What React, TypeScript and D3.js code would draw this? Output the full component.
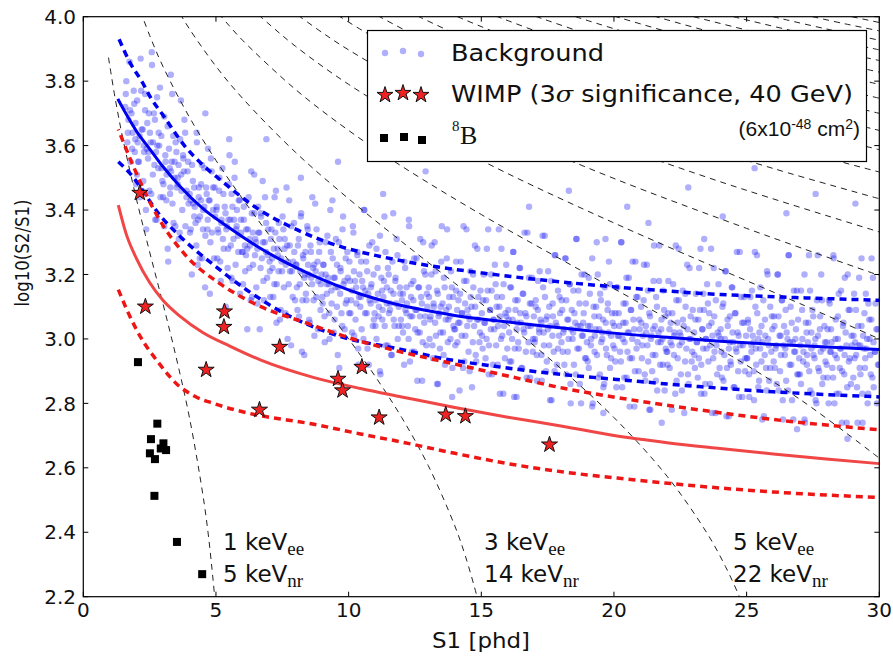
import React from "react";
import * as d3 from "d3";

type P = [number, number];

const xTickValues = [0, 5, 10, 15, 20, 25, 30];
const yTickValues = [2.2, 2.4, 2.6, 2.8, 3.0, 3.2, 3.4, 3.6, 3.8, 4.0];

const backgroundPoints: P[] = [
[1.58,3.72],[1.62,3.80],[1.66,3.61],[1.70,3.68],[1.74,3.86],[1.78,3.55],[1.82,3.70],[1.86,3.64],[1.90,3.77],[1.94,3.58],[1.97,3.67],[1.99,3.48],
[1.60,3.76],[1.68,3.64],[1.76,3.71],[1.84,3.59],[1.92,3.73],[1.96,3.62],
[2.03,3.74],[2.07,3.55],[2.12,3.63],[2.16,3.87],[2.21,3.46],[2.24,3.65],[2.29,3.58],[2.33,3.76],[2.37,3.34],[2.41,3.67],[2.46,3.58],[2.49,3.46],[2.54,3.61],[2.58,3.89],[2.62,3.51],[2.66,3.70],[2.71,3.37],[2.74,3.58],[2.78,3.75],[2.83,3.53],[2.86,3.60],[2.91,3.44],[2.94,3.63],[2.98,3.49],
[3.01,3.44],[3.05,3.69],[3.10,3.55],[3.14,3.51],[3.18,3.28],[3.23,3.59],[3.27,3.45],[3.31,3.52],[3.35,3.76],[3.40,3.36],[3.44,3.55],[3.48,3.61],[3.52,3.47],[3.56,3.50],[3.60,3.31],[3.65,3.62],[3.69,3.51],[3.73,3.40],[3.77,3.56],[3.81,3.68],[3.85,3.35],[3.89,3.46],[3.93,3.52],[3.97,3.42],
[4.01,3.45],[4.05,3.34],[4.10,3.54],[4.14,3.42],[4.18,3.47],[4.23,3.36],[4.27,3.64],[4.31,3.23],[4.35,3.44],[4.40,3.38],[4.44,3.48],[4.48,3.25],[4.52,3.40],[4.56,3.53],[4.60,3.32],[4.65,3.45],[4.69,3.37],[4.73,3.43],[4.77,3.14],[4.81,3.56],[4.85,3.33],[4.89,3.47],[4.93,3.25],[4.97,3.38],
[5.03,3.41],[5.07,3.34],[5.12,3.46],[5.16,3.24],[5.21,3.37],[5.24,3.53],[5.29,3.28],[5.33,3.41],[5.37,3.10],[5.41,3.35],[5.46,3.28],[5.49,3.48],[5.54,3.37],[5.58,3.19],[5.62,3.41],[5.66,3.31],[5.71,3.55],[5.74,3.23],[5.78,3.35],[5.83,3.32],[5.86,3.43],[5.91,3.14],[5.94,3.37],[5.98,3.27],
[6.01,3.27],[6.05,3.37],[6.10,3.21],[6.14,3.34],[6.18,3.28],[6.23,3.44],[6.27,3.31],[6.31,3.12],[6.35,3.39],[6.40,3.23],[6.44,3.51],[6.48,3.31],[6.52,3.16],[6.56,3.28],[6.60,3.33],[6.65,3.03],[6.69,3.39],[6.73,3.25],[6.77,3.30],[6.81,3.12],[6.85,3.44],[6.89,3.27],[6.93,3.19],[6.97,3.34],
[7.03,3.21],[7.07,3.31],[7.12,3.25],[7.16,3.13],[7.21,3.44],[7.24,3.33],[7.29,3.17],[7.33,3.28],[7.37,3.36],[7.41,3.06],[7.46,3.25],[7.49,3.21],[7.54,3.34],[7.58,3.28],[7.62,3.08],[7.66,3.47],[7.71,3.24],[7.74,3.17],[7.78,3.29],[7.83,2.98],[7.86,3.21],[7.91,3.24],[7.94,3.36],[7.98,3.12],
[8.03,3.23],[8.07,3.09],[8.12,3.31],[8.16,3.17],[8.21,3.39],[8.24,2.96],[8.29,3.25],[8.33,3.19],[8.37,3.27],[8.41,3.12],[8.46,3.34],[8.49,3.20],[8.54,3.05],[8.58,3.27],[8.62,3.17],[8.66,3.22],[8.71,3.01],[8.74,3.42],[8.78,3.13],[8.83,3.24],[8.86,3.18],[8.91,3.30],[8.94,3.09],[8.98,3.20],
[9.01,3.13],[9.05,3.23],[9.10,2.99],[9.14,3.30],[9.18,3.17],[9.23,3.19],[9.27,3.08],[9.31,3.40],[9.35,3.15],[9.40,3.25],[9.44,3.02],[9.48,3.19],[9.52,3.31],[9.56,3.10],[9.60,3.16],[9.65,2.91],[9.69,3.22],[9.73,3.08],[9.77,3.34],[9.81,3.17],[9.85,3.03],[9.89,3.25],[9.93,3.12],[9.97,3.19],
[10.03,3.24],[10.07,3.08],[10.12,3.15],[10.16,3.35],[10.21,3.01],[10.24,3.18],[10.29,3.11],[10.33,3.27],[10.37,2.92],[10.41,3.20],[10.46,3.13],[10.49,3.03],[10.54,3.16],[10.58,3.40],[10.62,3.08],[10.66,3.24],[10.71,2.97],[10.74,3.14],[10.78,3.29],[10.83,3.11],[10.86,3.17],[10.91,3.04],[10.94,3.20],[10.98,3.08],
[11.01,3.04],[11.05,3.28],[11.10,3.14],[11.14,3.10],[11.18,2.90],[11.23,3.19],[11.27,3.06],[11.31,3.13],[11.35,3.38],[11.40,2.98],[11.44,3.16],[11.48,3.22],[11.52,3.08],[11.56,3.11],[11.60,2.95],[11.65,3.24],[11.69,3.14],[11.73,3.04],[11.77,3.19],[11.81,3.31],[11.85,3.00],[11.89,3.10],[11.93,3.16],[11.97,3.06],
[12.01,3.12],[12.05,3.02],[12.10,3.24],[12.14,3.09],[12.18,3.16],[12.23,3.04],[12.27,3.37],[12.31,2.93],[12.35,3.13],[12.40,3.07],[12.44,3.18],[12.48,2.96],[12.52,3.09],[12.56,3.25],[12.60,3.02],[12.65,3.16],[12.69,3.07],[12.73,3.13],[12.77,2.87],[12.81,3.30],[12.85,3.05],[12.89,3.20],[12.93,2.98],[12.97,3.10],
[13.03,3.13],[13.07,3.06],[13.12,3.20],[13.16,2.98],[13.21,3.10],[13.24,3.30],[13.29,3.01],[13.33,3.15],[13.37,2.86],[13.41,3.08],[13.46,3.02],[13.49,3.24],[13.54,3.11],[13.58,2.95],[13.62,3.16],[13.66,3.06],[13.71,3.34],[13.74,2.99],[13.78,3.10],[13.83,3.07],[13.86,3.21],[13.91,2.91],[13.94,3.13],[13.98,3.03],
[14.01,3.03],[14.05,3.15],[14.10,2.99],[14.14,3.12],[14.18,3.05],[14.23,3.24],[14.27,3.08],[14.31,2.91],[14.35,3.18],[14.40,3.01],[14.44,3.34],[14.48,3.09],[14.52,2.96],[14.56,3.06],[14.60,3.13],[14.65,2.85],[14.69,3.20],[14.73,3.04],[14.77,3.10],[14.81,2.93],[14.85,3.28],[14.89,3.06],[14.93,2.99],[14.97,3.15],
[15.03,3.01],[15.07,3.12],[15.12,3.05],[15.16,2.94],[15.21,3.28],[15.24,3.15],[15.29,2.98],[15.33,3.09],[15.37,3.20],[15.41,2.89],[15.46,3.06],[15.49,3.03],[15.54,3.17],[15.58,3.10],[15.62,2.92],[15.66,3.34],[15.71,3.07],[15.74,3.00],[15.78,3.13],[15.83,2.83],[15.86,3.04],[15.91,3.08],[15.94,3.23],[15.98,2.97],
[16.03,3.06],[16.07,2.93],[16.12,3.16],[16.16,3.00],[16.21,3.27],[16.24,2.82],[16.29,3.09],[16.33,3.03],[16.37,3.12],[16.41,2.97],[16.46,3.22],[16.49,3.05],[16.54,2.91],[16.58,3.14],[16.62,3.02],[16.66,3.08],[16.71,2.88],[16.74,3.33],[16.78,2.99],[16.83,3.11],[16.86,3.04],[16.91,3.19],[16.94,2.96],[16.98,3.07],
[17.01,2.99],[17.05,3.10],[17.10,2.87],[17.14,3.18],[17.18,3.03],[17.23,3.06],[17.27,2.95],[17.31,3.32],[17.35,3.02],[17.40,3.13],[17.44,2.90],[17.48,3.07],[17.52,3.21],[17.56,2.98],[17.60,3.04],[17.65,2.81],[17.69,3.11],[17.73,2.96],[17.77,3.26],[17.81,3.05],[17.85,2.92],[17.89,3.15],[17.93,3.01],[17.97,3.08],
[18.03,3.12],[18.07,2.96],[18.12,3.03],[18.16,3.25],[18.21,2.89],[18.24,3.06],[18.29,3.00],[18.33,3.17],[18.37,2.80],[18.41,3.09],[18.46,3.02],[18.49,2.92],[18.54,3.05],[18.58,3.31],[18.62,2.97],[18.66,3.15],[18.71,2.86],[18.74,3.04],[18.78,3.20],[18.83,3.01],[18.86,3.08],[18.91,2.94],[18.94,3.11],[18.98,2.99],
[19.01,2.93],[19.05,3.19],[19.10,3.04],[19.14,3.00],[19.18,2.79],[19.23,3.10],[19.27,2.96],[19.31,3.03],[19.35,3.30],[19.40,2.88],[19.44,3.07],[19.48,3.14],[19.52,2.99],[19.56,3.02],[19.60,2.85],[19.65,3.16],[19.69,3.05],[19.73,2.95],[19.77,3.11],[19.81,3.24],[19.85,2.91],[19.89,3.01],[19.93,3.08],[19.97,2.98],
[20.01,3.04],[20.05,2.93],[20.10,3.16],[20.14,3.01],[20.18,3.08],[20.23,2.96],[20.27,3.30],[20.31,2.85],[20.35,3.05],[20.40,2.99],[20.44,3.11],[20.48,2.88],[20.52,3.02],[20.56,3.19],[20.60,2.94],[20.65,3.09],[20.69,3.00],[20.73,3.06],[20.77,2.79],[20.81,3.24],[20.85,2.97],[20.89,3.13],[20.93,2.90],[20.97,3.03],
[21.03,3.05],[21.07,2.98],[21.12,3.12],[21.16,2.89],[21.21,3.02],[21.24,3.23],[21.29,2.93],[21.33,3.08],[21.37,2.78],[21.41,3.01],[21.46,2.95],[21.49,3.18],[21.54,3.04],[21.58,2.87],[21.62,3.10],[21.66,2.99],[21.71,3.29],[21.74,2.92],[21.78,3.03],[21.83,3.00],[21.86,3.15],[21.91,2.84],[21.94,3.07],[21.98,2.96],
[22.01,2.96],[22.05,3.08],[22.10,2.91],[22.14,3.05],[22.18,2.98],[22.23,3.17],[22.27,3.01],[22.31,2.83],[22.35,3.12],[22.40,2.94],[22.44,3.28],[22.48,3.02],[22.52,2.89],[22.56,2.99],[22.60,3.06],[22.65,2.77],[22.69,3.14],[22.73,2.97],[22.77,3.03],[22.81,2.86],[22.85,3.22],[22.89,3.00],[22.93,2.93],[22.97,3.09],
[23.03,2.95],[23.07,3.06],[23.12,2.99],[23.16,2.88],[23.21,3.22],[23.24,3.09],[23.29,2.92],[23.33,3.03],[23.37,3.14],[23.41,2.83],[23.46,3.00],[23.49,2.97],[23.54,3.11],[23.58,3.04],[23.62,2.86],[23.66,3.28],[23.71,3.01],[23.74,2.94],[23.78,3.07],[23.83,2.77],[23.86,2.98],[23.91,3.02],[23.94,3.17],[23.98,2.91],
[24.03,3.00],[24.07,2.88],[24.12,3.11],[24.16,2.95],[24.21,3.21],[24.24,2.76],[24.29,3.04],[24.33,2.97],[24.37,3.07],[24.41,2.92],[24.46,3.16],[24.49,2.99],[24.54,2.85],[24.58,3.08],[24.62,2.96],[24.66,3.02],[24.71,2.82],[24.74,3.27],[24.78,2.93],[24.83,3.05],[24.86,2.98],[24.91,3.13],[24.94,2.90],[24.98,3.01],
[25.01,2.94],[25.05,3.05],[25.10,2.82],[25.14,3.13],[25.18,2.98],[25.23,3.01],[25.27,2.90],[25.31,3.27],[25.35,2.97],[25.40,3.08],[25.44,2.85],[25.48,3.02],[25.52,3.16],[25.56,2.93],[25.60,2.99],[25.65,2.76],[25.69,3.06],[25.73,2.91],[25.77,3.21],[25.81,3.00],[25.85,2.87],[25.89,3.10],[25.93,2.96],[25.97,3.03],
[26.03,3.07],[26.07,2.91],[26.12,2.98],[26.16,3.20],[26.21,2.84],[26.24,3.01],[26.29,2.95],[26.33,3.12],[26.37,2.75],[26.41,3.04],[26.46,2.97],[26.49,2.87],[26.54,3.00],[26.58,3.26],[26.62,2.92],[26.66,3.10],[26.71,2.81],[26.74,2.99],[26.78,3.15],[26.83,2.96],[26.86,3.03],[26.91,2.89],[26.94,3.06],[26.98,2.94],
[27.01,2.89],[27.05,3.15],[27.10,3.00],[27.14,2.96],[27.18,2.75],[27.23,3.05],[27.27,2.92],[27.31,2.99],[27.35,3.26],[27.40,2.84],[27.44,3.02],[27.48,3.09],[27.52,2.95],[27.56,2.98],[27.60,2.81],[27.65,3.12],[27.69,3.01],[27.73,2.90],[27.77,3.07],[27.81,3.20],[27.85,2.86],[27.89,2.97],[27.93,3.04],[27.97,2.93],
[28.01,2.99],[28.05,2.88],[28.10,3.12],[28.14,2.96],[28.18,3.03],[28.23,2.91],[28.27,3.26],[28.31,2.80],[28.35,3.00],[28.40,2.94],[28.44,3.07],[28.48,2.83],[28.52,2.97],[28.56,3.15],[28.60,2.90],[28.65,3.05],[28.69,2.95],[28.73,3.02],[28.77,2.74],[28.81,3.20],[28.85,2.93],[28.89,3.09],[28.93,2.86],[28.97,2.98],
[29.03,3.01],[29.07,2.94],[29.12,3.09],[29.16,2.85],[29.21,2.98],[29.24,3.19],[29.29,2.89],[29.33,3.04],[29.37,2.74],[29.41,2.97],[29.46,2.91],[29.49,3.14],[29.54,3.00],[29.58,2.83],[29.62,3.06],[29.66,2.95],[29.71,3.25],[29.74,2.88],[29.78,2.99],[29.83,2.96],[29.86,3.11],[29.91,2.80],[29.94,3.03],[29.98,2.92],
[6.9,3.62],[9.6,3.55],[12.9,3.52],[16.8,3.41],[18.3,3.46],[20.5,3.41],[21.3,3.36],[22.8,3.47],[24.1,3.38],[25.3,3.53],[26.5,3.39],[27.6,3.45],[29.1,3.42],[23.4,3.31],[13.9,2.82],[19.6,2.77],[21.8,2.74],[26.9,2.72],[28.8,2.69],[11.3,3.45],[8.2,3.5],[5.5,3.62],[3.3,3.82],[4.6,3.70]
];

const backgroundPointsB: P[] = [
[2.02,3.51],[2.05,3.61],[2.09,3.55],[2.13,3.44],[2.18,3.77],[2.20,3.65],[2.26,3.49],[2.28,3.60],[2.33,3.71],[2.36,3.40],[2.39,3.59],[2.44,3.56],[2.47,3.70],[2.51,3.64],[2.56,3.45],[2.59,3.85],[2.63,3.61],[2.68,3.54],[2.70,3.68],[2.76,3.37],[2.79,3.60],[2.84,3.64],[2.89,3.78],[2.95,3.53],
[3.02,3.48],[3.05,3.35],[3.09,3.57],[3.13,3.43],[3.18,3.66],[3.20,3.24],[3.26,3.53],[3.28,3.47],[3.33,3.55],[3.36,3.42],[3.39,3.63],[3.44,3.50],[3.47,3.35],[3.51,3.58],[3.56,3.48],[3.59,3.54],[3.63,3.33],[3.68,3.74],[3.70,3.46],[3.76,3.57],[3.79,3.52],[3.84,3.64],[3.89,3.44],[3.95,3.55],
[4.02,3.33],[4.05,3.43],[4.09,3.20],[4.13,3.49],[4.18,3.38],[4.20,3.41],[4.26,3.29],[4.28,3.61],[4.33,3.37],[4.36,3.47],[4.39,3.25],[4.44,3.43],[4.47,3.54],[4.51,3.34],[4.56,3.41],[4.59,3.16],[4.63,3.47],[4.68,3.34],[4.70,3.59],[4.76,3.43],[4.79,3.30],[4.84,3.52],[4.89,3.40],[4.95,3.47],
[5.02,3.40],[5.05,3.25],[5.09,3.33],[5.13,3.50],[5.18,3.18],[5.20,3.36],[5.26,3.31],[5.28,3.45],[5.33,3.09],[5.36,3.39],[5.39,3.34],[5.44,3.22],[5.47,3.37],[5.51,3.57],[5.56,3.29],[5.59,3.45],[5.63,3.18],[5.68,3.37],[5.70,3.50],[5.76,3.34],[5.79,3.40],[5.84,3.27],[5.89,3.43],[5.95,3.33],
[6.02,3.17],[6.05,3.41],[6.09,3.29],[6.13,3.26],[6.18,3.03],[6.20,3.34],[6.26,3.22],[6.28,3.29],[6.33,3.52],[6.36,3.13],[6.39,3.33],[6.44,3.39],[6.47,3.26],[6.51,3.30],[6.56,3.11],[6.59,3.41],[6.63,3.33],[6.68,3.22],[6.70,3.38],[6.76,3.49],[6.79,3.18],[6.84,3.30],[6.89,3.36],[6.95,3.26],
[7.02,3.24],[7.05,3.13],[7.09,3.34],[7.13,3.22],[7.18,3.28],[7.20,3.17],[7.26,3.46],[7.28,3.05],[7.33,3.26],[7.36,3.21],[7.39,3.31],[7.44,3.09],[7.47,3.24],[7.51,3.38],[7.56,3.16],[7.59,3.31],[7.63,3.23],[7.68,3.29],[7.70,3.00],[7.76,3.43],[7.79,3.21],[7.84,3.35],[7.89,3.13],[7.95,3.27],
[8.02,3.23],[8.05,3.16],[8.09,3.29],[8.13,3.07],[8.18,3.21],[8.20,3.38],[8.26,3.12],[8.28,3.26],[8.33,2.95],[8.36,3.20],[8.39,3.14],[8.44,3.35],[8.47,3.23],[8.51,3.06],[8.56,3.29],[8.59,3.19],[8.63,3.44],[8.68,3.12],[8.70,3.23],[8.76,3.21],[8.79,3.34],[8.84,3.03],[8.89,3.27],[8.95,3.17],
[9.02,3.11],[9.05,3.23],[9.09,3.07],[9.13,3.20],[9.18,3.14],[9.20,3.32],[9.26,3.17],[9.28,3.00],[9.33,3.27],[9.36,3.11],[9.39,3.43],[9.44,3.19],[9.47,3.06],[9.51,3.16],[9.56,3.23],[9.59,2.95],[9.63,3.30],[9.68,3.14],[9.70,3.21],[9.76,3.04],[9.79,3.38],[9.84,3.18],[9.89,3.11],[9.95,3.27],
[10.02,3.08],[10.05,3.18],[10.09,3.12],[10.13,3.02],[10.18,3.33],[10.20,3.21],[10.26,3.06],[10.28,3.16],[10.33,3.26],[10.36,2.97],[10.39,3.13],[10.44,3.10],[10.47,3.24],[10.51,3.18],[10.56,3.00],[10.59,3.40],[10.63,3.15],[10.68,3.08],[10.70,3.21],[10.76,2.92],[10.79,3.12],[10.84,3.16],[10.89,3.30],[10.95,3.06],
[11.02,3.12],[11.05,3.00],[11.09,3.22],[11.13,3.07],[11.18,3.32],[11.20,2.89],[11.26,3.15],[11.28,3.09],[11.33,3.18],[11.36,3.04],[11.39,3.27],[11.44,3.11],[11.47,2.98],[11.51,3.20],[11.56,3.09],[11.59,3.15],[11.63,2.95],[11.68,3.39],[11.70,3.06],[11.76,3.18],[11.79,3.11],[11.84,3.26],[11.89,3.04],[11.95,3.14],
[12.02,3.04],[12.05,3.14],[12.09,2.92],[12.13,3.22],[12.18,3.08],[12.20,3.11],[12.26,3.00],[12.28,3.35],[12.33,3.07],[12.36,3.17],[12.39,2.96],[12.44,3.12],[12.47,3.25],[12.51,3.03],[12.56,3.09],[12.59,2.87],[12.63,3.16],[12.68,3.02],[12.70,3.31],[12.76,3.11],[12.79,2.99],[12.84,3.21],[12.89,3.07],[12.95,3.14],
[13.02,3.16],[13.05,3.00],[13.09,3.07],[13.13,3.29],[13.18,2.94],[13.20,3.11],[13.26,3.05],[13.28,3.21],[13.33,2.86],[13.36,3.14],[13.39,3.07],[13.44,2.97],[13.47,3.10],[13.51,3.35],[13.56,3.02],[13.59,3.19],[13.63,2.92],[13.68,3.09],[13.70,3.25],[13.76,3.06],[13.79,3.13],[13.84,3.00],[13.89,3.16],[13.95,3.04],
[14.02,2.98],[14.05,3.24],[14.09,3.09],[14.13,3.05],[14.18,2.84],[14.20,3.14],[14.26,3.01],[14.28,3.08],[14.33,3.35],[14.36,2.93],[14.39,3.11],[14.44,3.18],[14.47,3.04],[14.51,3.07],[14.56,2.90],[14.59,3.21],[14.63,3.10],[14.68,2.99],[14.70,3.16],[14.76,3.29],[14.79,2.95],[14.84,3.06],[14.89,3.13],[14.95,3.02],
[15.02,3.08],[15.05,2.97],[15.09,3.20],[15.13,3.05],[15.18,3.12],[15.20,3.00],[15.26,3.34],[15.28,2.89],[15.33,3.09],[15.36,3.03],[15.39,3.15],[15.44,2.92],[15.47,3.06],[15.51,3.23],[15.56,2.98],[15.59,3.13],[15.63,3.04],[15.68,3.10],[15.70,2.83],[15.76,3.28],[15.79,3.01],[15.84,3.17],[15.89,2.94],[15.95,3.07],
[16.02,3.09],[16.05,3.02],[16.09,3.16],[16.13,2.93],[16.18,3.06],[16.20,3.27],[16.26,2.97],[16.28,3.12],[16.33,2.82],[16.36,3.05],[16.39,2.99],[16.44,3.22],[16.47,3.08],[16.51,2.91],[16.56,3.14],[16.59,3.03],[16.63,3.33],[16.68,2.96],[16.70,3.07],[16.76,3.04],[16.79,3.19],[16.84,2.88],[16.89,3.11],[16.95,3.00],
[17.02,3.00],[17.05,3.12],[17.09,2.95],[17.13,3.09],[17.18,3.02],[17.20,3.21],[17.26,3.05],[17.28,2.87],[17.33,3.16],[17.36,2.98],[17.39,3.32],[17.44,3.06],[17.47,2.93],[17.51,3.03],[17.56,3.10],[17.59,2.81],[17.63,3.18],[17.68,3.01],[17.70,3.07],[17.76,2.90],[17.79,3.26],[17.84,3.04],[17.89,2.97],[17.95,3.13],
[18.02,2.99],[18.05,3.09],[18.09,3.02],[18.13,2.92],[18.18,3.25],[18.20,3.12],[18.26,2.96],[18.28,3.06],[18.33,3.17],[18.36,2.86],[18.39,3.03],[18.44,3.00],[18.47,3.15],[18.51,3.08],[18.56,2.89],[18.59,3.31],[18.63,3.04],[18.68,2.97],[18.70,3.11],[18.76,2.80],[18.79,3.01],[18.84,3.05],[18.89,3.20],[18.95,2.94],
[19.02,3.04],[19.05,2.91],[19.09,3.14],[19.13,2.98],[19.18,3.25],[19.20,2.80],[19.26,3.07],[19.28,3.01],[19.33,3.10],[19.36,2.95],[19.39,3.20],[19.44,3.03],[19.47,2.89],[19.51,3.12],[19.56,3.00],[19.59,3.06],[19.63,2.86],[19.68,3.31],[19.70,2.97],[19.76,3.09],[19.79,3.02],[19.84,3.17],[19.89,2.94],[19.95,3.05],
[20.02,2.97],[20.05,3.08],[20.09,2.85],[20.13,3.16],[20.18,3.01],[20.20,3.04],[20.26,2.93],[20.28,3.30],[20.33,3.00],[20.36,3.11],[20.39,2.88],[20.44,3.05],[20.47,3.19],[20.51,2.96],[20.56,3.02],[20.59,2.79],[20.63,3.09],[20.68,2.94],[20.70,3.24],[20.76,3.03],[20.79,2.90],[20.84,3.13],[20.89,2.99],[20.95,3.06],
[21.02,3.10],[21.05,2.94],[21.09,3.01],[21.13,3.23],[21.18,2.87],[21.20,3.04],[21.26,2.98],[21.28,3.15],[21.33,2.78],[21.36,3.07],[21.39,3.00],[21.44,2.90],[21.47,3.03],[21.51,3.29],[21.56,2.95],[21.59,3.13],[21.63,2.84],[21.68,3.02],[21.70,3.18],[21.76,2.99],[21.79,3.06],[21.84,2.92],[21.89,3.09],[21.95,2.97],
[22.02,2.92],[22.05,3.18],[22.09,3.03],[22.13,2.99],[22.18,2.78],[22.20,3.08],[22.26,2.95],[22.28,3.02],[22.33,3.29],[22.36,2.87],[22.39,3.05],[22.44,3.12],[22.47,2.98],[22.51,3.01],[22.56,2.84],[22.59,3.15],[22.63,3.04],[22.68,2.93],[22.70,3.10],[22.76,3.23],[22.79,2.89],[22.84,3.00],[22.89,3.07],[22.95,2.96],
[23.02,3.02],[23.05,2.91],[23.09,3.14],[23.13,2.99],[23.18,3.06],[23.20,2.94],[23.26,3.28],[23.28,2.83],[23.33,3.03],[23.36,2.97],[23.39,3.09],[23.44,2.86],[23.47,3.00],[23.51,3.17],[23.56,2.93],[23.59,3.08],[23.63,2.98],[23.68,3.05],[23.70,2.77],[23.76,3.22],[23.79,2.96],[23.84,3.12],[23.89,2.89],[23.95,3.01],
[24.02,3.03],[24.05,2.96],[24.09,3.10],[24.13,2.87],[24.18,3.00],[24.20,3.21],[24.26,2.91],[24.28,3.06],[24.33,2.76],[24.36,2.99],[24.39,2.93],[24.44,3.16],[24.47,3.02],[24.51,2.85],[24.56,3.08],[24.59,2.97],[24.63,3.27],[24.68,2.90],[24.70,3.01],[24.76,2.98],[24.79,3.13],[24.84,2.82],[24.89,3.05],[24.95,2.94],
[25.02,2.94],[25.05,3.06],[25.09,2.89],[25.13,3.03],[25.18,2.96],[25.20,3.15],[25.26,2.99],[25.28,2.81],[25.33,3.10],[25.36,2.92],[25.39,3.26],[25.44,3.00],[25.47,2.87],[25.51,2.97],[25.56,3.04],[25.59,2.75],[25.63,3.12],[25.68,2.95],[25.70,3.01],[25.76,2.84],[25.79,3.20],[25.84,2.98],[25.89,2.91],[25.95,3.07],
[26.02,2.93],[26.05,3.04],[26.09,2.97],[26.13,2.86],[26.18,3.20],[26.20,3.07],[26.26,2.90],[26.28,3.01],[26.33,3.12],[26.36,2.81],[26.39,2.98],[26.44,2.95],[26.47,3.09],[26.51,3.02],[26.56,2.84],[26.59,3.26],[26.63,2.99],[26.68,2.92],[26.70,3.05],[26.76,2.75],[26.79,2.96],[26.84,3.00],[26.89,3.15],[26.95,2.89],
[27.02,2.98],[27.05,2.86],[27.09,3.09],[27.13,2.93],[27.18,3.20],[27.20,2.74],[27.26,3.02],[27.28,2.95],[27.33,3.05],[27.36,2.90],[27.39,3.15],[27.44,2.97],[27.47,2.83],[27.51,3.07],[27.56,2.94],[27.59,3.00],[27.63,2.80],[27.68,3.26],[27.70,2.91],[27.76,3.03],[27.79,2.96],[27.84,3.12],[27.89,2.88],[27.95,2.99],
[28.02,2.92],[28.05,3.03],[28.09,2.80],[28.13,3.11],[28.18,2.96],[28.20,2.99],[28.26,2.88],[28.28,3.25],[28.33,2.95],[28.36,3.06],[28.39,2.83],[28.44,3.00],[28.47,3.14],[28.51,2.91],[28.56,2.97],[28.59,2.74],[28.63,3.04],[28.68,2.89],[28.70,3.19],[28.76,2.98],[28.79,2.85],[28.84,3.09],[28.89,2.94],[28.95,3.01],
[29.02,2.88],[29.05,3.14],[29.09,2.99],[29.13,2.95],[29.18,2.74],[29.20,3.04],[29.26,2.91],[29.28,2.98],[29.33,3.25],[29.36,2.83],[29.39,3.01],[29.44,3.08],[29.47,2.94],[29.51,2.97],[29.56,2.80],[29.59,3.11],[29.63,3.00],[29.68,2.89],[29.70,3.06],[29.76,3.19],[29.79,2.85],[29.84,2.96],[29.89,3.03],[29.95,2.92]
];

const wimpPoints: P[] = [
  [2.13, 3.453], [2.34, 3.10], [4.63, 2.904], [5.32, 3.085], [5.3, 3.037], [7.4, 2.975], [6.64, 2.78],
  [9.6, 2.876], [9.77, 2.84], [10.5, 2.913], [11.15, 2.756], [13.66, 2.765], [14.4, 2.76], [17.57, 2.672],
];

const boron8Points: P[] = [
  [2.06, 2.928], [2.79, 2.737], [2.55, 2.689], [3.02, 2.676], [3.12, 2.655], [2.51, 2.645],
  [2.70, 2.627], [2.92, 2.66], [2.68, 2.513], [3.53, 2.37], [4.48, 2.27],
];

const bgMedian: P[] = [[1.3,3.745],[1.6,3.70],[2,3.645],[2.5,3.59],[3,3.535],[3.65,3.473],[4.5,3.405],[5.5,3.345],[6.5,3.29],[7.5,3.243],[8.5,3.203],[9.5,3.168],[10.5,3.138],[11.5,3.114],[12.5,3.095],[14,3.073],[15.5,3.057],[17,3.043],[18.5,3.03],[20,3.018],[22,3.005],[24,2.993],[26,2.983],[28,2.975],[30,2.967]];
const bgUpper: P[] = [[1.35,3.93],[1.77,3.856],[2.2,3.80],[2.53,3.75],[3.0,3.695],[3.84,3.597],[4.5,3.54],[5.16,3.494],[6.54,3.406],[8.05,3.339],[9.68,3.287],[11.19,3.256],[13,3.228],[15,3.205],[18,3.177],[21,3.155],[24,3.138],[27,3.128],[30,3.12]];
const bgLower: P[] = [[1.32,3.55],[1.9,3.50],[2.4,3.44],[2.83,3.39],[3.65,3.318],[4.91,3.23],[6.16,3.152],[7.79,3.07],[9.68,3.008],[11.94,2.968],[13.5,2.94],[15.5,2.915],[18,2.89],[20,2.875],[23.2,2.852],[26,2.836],[30,2.82]];
const sigMedian: P[] = [[1.32,3.415],[1.6,3.33],[2,3.25],[2.5,3.175],[3,3.12],[3.65,3.07],[4.5,3.02],[5.54,2.977],[6.67,2.935],[8.7,2.88],[10.45,2.846],[12,2.82],[14,2.787],[16,2.757],[18,2.73],[20,2.70],[22,2.678],[24,2.66],[26,2.643],[28,2.627],[30,2.613]];
const sigUpper: P[] = [[1.32,3.65],[1.89,3.535],[2.8,3.38],[3.84,3.261],[5.16,3.171],[6.67,3.101],[8.42,3.049],[10.43,2.993],[11.81,2.963],[14,2.922],[16,2.885],[18.1,2.847],[20.5,2.813],[23.2,2.78],[26,2.75],[30,2.718]];
const sigLower: P[] = [[1.32,3.153],[1.7,3.08],[2.15,3.007],[2.8,2.93],[3.55,2.858],[4.2,2.822],[4.9,2.80],[6.2,2.77],[8.7,2.735],[10.45,2.705],[12,2.68],[14,2.645],[16,2.613],[18.1,2.587],[20.5,2.565],[23.2,2.543],[26,2.525],[30,2.508]];

const energyContours: P[][] = [
  [[0.95,3.873],[1.2,3.747],[1.5,3.618],[2.0,3.435],[2.5,3.27],[3.0,3.11],[3.5,2.943],[4.0,2.756],[4.5,2.52],[4.7,2.40],[4.85,2.286],[4.95,2.2],[5.0,2.146]],
  [[2.15,4.018],[2.5,3.942],[3,3.846],[4,3.688],[5,3.554],[6,3.435],[7,3.323],[8,3.216],[9,3.11],[10,3.0],[11,2.884],[12,2.756],[13,2.607],[14,2.42],[14.4,2.326],[14.84,2.2],[15.0,2.146]],
  [[3.65,4.009],[4,3.962],[5,3.846],[6,3.747],[8,3.579],[10,3.435],[12,3.302],[14,3.173],[16,3.045],[18,2.908],[20,2.756],[22,2.574],[23.5,2.398],[24.2,2.294],[24.73,2.2],[25,2.146]],
  [[5.1,4.01],[5.5,3.972],[6,3.927],[8,3.774],[10,3.647],[12,3.536],[15,3.386],[18,3.247],[21,3.11],[24,2.968],[27,2.813],[30,2.63]],
  [[6.6,4.006],[7,3.977],[8,3.908],[10,3.79],[13,3.641],[16,3.513],[20,3.36],[24,3.216],[27,3.11],[30,3.0]],
  [[8.1,4.004],[9,3.951],[10,3.897],[13,3.756],[16,3.637],[20,3.498],[25,3.343],[30,3.197]],
  [[9.6,4.004],[10.5,3.958],[12,3.889],[15,3.769],[19,3.634],[24,3.488],[30,3.332]],
  [[11.1,4.003],[12.5,3.942],[14,3.883],[18,3.747],[22,3.632],[26,3.529],[30,3.435]],
  [[12.6,4.002],[14,3.948],[16,3.878],[20,3.758],[25,3.63],[30,3.518]],
  [[14.1,4.0],[16,3.936],[18,3.875],[22,3.767],[26,3.673],[30,3.587]],
  [[15.55,4.002],[17.5,3.942],[20,3.872],[22.5,3.809],[25,3.752],[27.5,3.698],[30,3.647]],
  [[17.05,4.001],[19,3.946],[21,3.894],[25,3.802],[30,3.70]],
  [[18.55,4.0],[22,3.913],[26,3.825],[30,3.747]],
  [[20.0,4.002],[22.5,3.942],[25,3.887],[27.5,3.837],[30,3.79]],
  [[21.5,4.002],[23.5,3.956],[25.5,3.914],[27.5,3.874],[30,3.828]],
  [[23.0,4.0],[26.5,3.928],[28.2,3.896],[30,3.864]],
  [[24.5,4.0],[27,3.951],[30,3.897]],
  [[25.99,4.0],[28,3.962],[30,3.927]],
  [[27.48,4.0],[28.7,3.978],[30,3.956]],
  [[28.96,4.0],[30,3.982]],
];

export default function App() {
  const x = d3.scaleLinear().domain([0, 30]).range([83.3, 879.3]);
  const y = d3.scaleLinear().domain([2.2, 4.0]).range([596.7, 16.7]);
  const [xl, xr] = x.range();
  const [yb, yt] = y.range();
  const smooth = d3.line<P>().x((d) => x(d[0])).y((d) => y(d[1])).curve(d3.curveMonotoneX);
  const contour = d3.line<P>().x((d) => x(d[0])).y((d) => y(d[1])).curve(d3.curveCatmullRom.alpha(0.5));
  const starPath = d3.symbol().type(d3.symbolStar).size(80)() as string;
  const font = "DejaVu Sans";
  const sq = 8;
  const allBg = backgroundPoints.concat(backgroundPointsB);
  const dotFill = "#1515f5";
  const dotOpacity = 0.34;
  const dotR = 3.2;
  const blue = "#0000f0";

  return (
    <div style={{ position: "absolute", left: 0, top: 0 }}>
      <svg width={893} height={656} style={{ display: "block", background: "#fff" }} fontFamily={font}>
        <defs>
          <clipPath id="plotClip">
            <rect x={xl} y={yt} width={xr - xl} height={yb - yt} />
          </clipPath>
        </defs>
        <rect x={0} y={0} width={893} height={656} fill="#fff" />
        <g clipPath="url(#plotClip)">
          <g fill={dotFill} fillOpacity={dotOpacity}>
            {allBg.map((d, i) => (
              <circle key={i} cx={x(d[0])} cy={y(d[1])} r={dotR} />
            ))}
          </g>
          <g fill="none" stroke="#222" strokeWidth={1} strokeDasharray="6,5">
            {energyContours.map((c, i) => (
              <path key={i} d={contour(c) as string} />
            ))}
          </g>
          <path d={smooth(bgMedian) as string} fill="none" stroke={blue} strokeWidth={3} />
          <path d={smooth(bgUpper) as string} fill="none" stroke={blue} strokeWidth={3.5} strokeDasharray="7,5" />
          <path d={smooth(bgLower) as string} fill="none" stroke={blue} strokeWidth={3.5} strokeDasharray="7,5" />
          <path d={smooth(sigMedian) as string} fill="none" stroke="#f04646" strokeWidth={3} />
          <path d={smooth(sigUpper) as string} fill="none" stroke="#ee1515" strokeWidth={3.5} strokeDasharray="7,5" strokeDashoffset={6} />
          <path d={smooth(sigLower) as string} fill="none" stroke="#ee1515" strokeWidth={3.5} strokeDasharray="7,5" />
          {wimpPoints.map((d, i) => (
            <path key={i} d={starPath} transform={`translate(${x(d[0])},${y(d[1])})`} fill="#ee2222" stroke="#111" strokeWidth={1} />
          ))}
          {boron8Points.map((d, i) => (
            <rect key={i} x={x(d[0]) - sq / 2} y={y(d[1]) - sq / 2} width={sq} height={sq} fill="#000" />
          ))}
        </g>

        <rect x={xl} y={yt} width={xr - xl} height={yb - yt} fill="none" stroke="#000" strokeWidth={1.2} />

        <g stroke="#000" strokeWidth={1}>
          {xTickValues.map((t) => (
            <g key={t}>
              <line x1={x(t)} x2={x(t)} y1={yb} y2={yb - 5} />
              <line x1={x(t)} x2={x(t)} y1={yt} y2={yt + 5} />
            </g>
          ))}
          {yTickValues.map((t) => (
            <g key={t}>
              <line x1={xl} x2={xl + 5} y1={y(t)} y2={y(t)} />
              <line x1={xr} x2={xr - 5} y1={y(t)} y2={y(t)} />
            </g>
          ))}
        </g>
        <g fontSize={20} fill="#111">
          {xTickValues.map((t) => (
            <text key={t} x={x(t)} y={617} textAnchor="middle">{t}</text>
          ))}
          {yTickValues.map((t) => (
            <text key={t} x={76} y={y(t)} dy="0.36em" textAnchor="end">{t.toFixed(1)}</text>
          ))}
        </g>
        <text x={481} y={648} fontSize={21} textAnchor="middle" fill="#111" textLength={98} lengthAdjust="spacingAndGlyphs">S1 [phd]</text>
        <text transform="translate(29,253) rotate(-90)" fontSize={20} textAnchor="middle" fill="#111" textLength={107} lengthAdjust="spacingAndGlyphs">log10(S2/S1)</text>

        <g fontSize={23} fill="#111">
          <text x={223} y={550}>1 keV<tspan fontFamily="Liberation Serif" fontSize={19} dy={5}>ee</tspan></text>
          <text x={223} y={582}>5 keV<tspan fontFamily="Liberation Serif" fontSize={19} dy={5}>nr</tspan></text>
          <text x={484} y={550}>3 keV<tspan fontFamily="Liberation Serif" fontSize={19} dy={5}>ee</tspan></text>
          <text x={484} y={582}>14 keV<tspan fontFamily="Liberation Serif" fontSize={19} dy={5}>nr</tspan></text>
          <text x={733} y={550}>5 keV<tspan fontFamily="Liberation Serif" fontSize={19} dy={5}>ee</tspan></text>
          <text x={733} y={582}>22 keV<tspan fontFamily="Liberation Serif" fontSize={19} dy={5}>nr</tspan></text>
        </g>

        <g>
          <rect x={367.5} y={30.5} width={499} height={131} fill="#fff" stroke="#000" strokeWidth={1.2} />
          <g fill={dotFill} fillOpacity={dotOpacity}>
            <circle cx={385} cy={53} r={dotR} />
            <circle cx={403} cy={51} r={dotR} />
            <circle cx={421} cy={54} r={dotR} />
          </g>
          <path d={starPath} transform="translate(385,95)" fill="#ee2222" stroke="#111" strokeWidth={1} />
          <path d={starPath} transform="translate(403,93)" fill="#ee2222" stroke="#111" strokeWidth={1} />
          <path d={starPath} transform="translate(421,95)" fill="#ee2222" stroke="#111" strokeWidth={1} />
          <rect x={384 - sq / 2} y={138 - sq / 2} width={sq} height={sq} fill="#000" />
          <rect x={404 - sq / 2} y={137 - sq / 2} width={sq} height={sq} fill="#000" />
          <rect x={422 - sq / 2} y={140 - sq / 2} width={sq} height={sq} fill="#000" />
          <text x={451} y={61} fontSize={23} fill="#111" textLength={153} lengthAdjust="spacingAndGlyphs">Background</text>
          <text x={451} y={102} fontSize={23} fill="#111" textLength={402} lengthAdjust="spacingAndGlyphs">
            WIMP (3<tspan fontFamily="DejaVu Serif" fontStyle="italic">σ</tspan> significance, 40 GeV)
          </text>
          <text x={860} y={136} fontSize={21} fontFamily="Liberation Sans" textAnchor="end" fill="#111">
            (6x10<tspan fontSize={14} dy={-7}>-48</tspan><tspan dy={7}> cm</tspan><tspan fontSize={14} dy={-7}>2</tspan><tspan dy={7}>)</tspan>
          </text>
          <text x={452} y={131} fontSize={15} fontFamily="Liberation Serif" fill="#111">8</text>
          <text x={460} y={144} fontSize={26} fontFamily="Liberation Serif" fill="#111">B</text>
        </g>
      </svg>
    </div>
  );
}
